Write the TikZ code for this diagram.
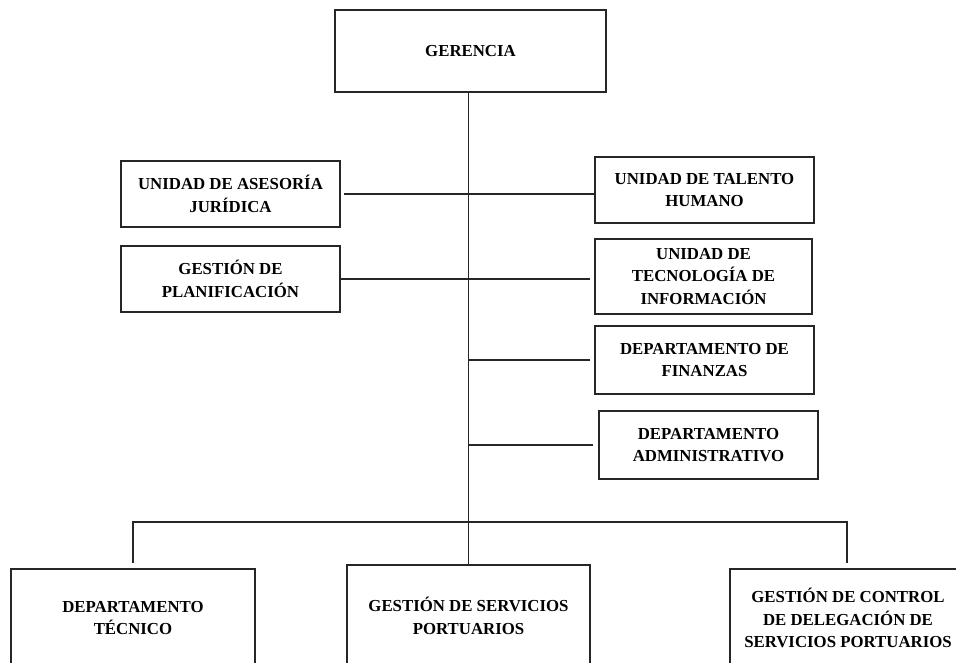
\documentclass[tikz,border=0pt]{standalone}
\usepackage{fontspec}
\setmainfont{Liberation Serif}
\begin{document}
\begin{tikzpicture}[x=1pt,y=-1pt,
  box/.style={draw=black!85,line width=1.5pt,align=center,inner sep=0pt,
    font=\bfseries\fontsize{16.8}{22.5}\selectfont},
  link/.style={draw=black!85,line width=1.7pt}]
\useasboundingbox (0,0) rectangle (956,662);
\clip (0,0) rectangle (956,662);
\node[box,minimum width=271pt,minimum height=82pt] (ger) at (470.5,51) {GERENCIA};
\node[box,minimum width=219pt,minimum height=66pt] (jur) at (230.5,194) {UNIDAD DE ASESORÍA\\JURÍDICA};
\node[box,minimum width=219pt,minimum height=66pt] (pla) at (230.5,279) {GESTIÓN DE\\PLANIFICACIÓN};
\node[box,minimum width=219pt,minimum height=66pt] (tal) at (704.5,190) {UNIDAD DE TALENTO\\HUMANO};
\node[box,minimum width=217pt,minimum height=75pt] (tec) at (703.5,276.5) {UNIDAD DE\\TECNOLOGÍA DE\\INFORMACIÓN};
\node[box,minimum width=219pt,minimum height=68pt] (fin) at (704.5,360) {DEPARTAMENTO DE\\FINANZAS};
\node[box,minimum width=219pt,minimum height=68pt] (adm) at (708.5,445) {DEPARTAMENTO\\ADMINISTRATIVO};
\node[box,minimum width=244pt,minimum height=98pt] (dtec) at (133,618) {DEPARTAMENTO\\TÉCNICO};
\node[box,minimum width=243pt,minimum height=102pt] (ser) at (468.5,616) {GESTIÓN DE SERVICIOS\\PORTUARIOS};
\node[box,minimum width=236pt,minimum height=98pt] (con) at (848,618) {GESTIÓN DE CONTROL\\DE DELEGACIÓN DE\\SERVICIOS PORTUARIOS};
\coordinate (busL) at (133,522);
\coordinate (busR) at (847,522);
\draw[link] (ser.north |- ger.south) -- (ser.north);
\draw[link] ([xshift=3pt]jur.east) -- (jur.east -| ser.north);
\draw[link] (pla.east) -- (pla.east -| ser.north);
\draw[link] (tal.west |- jur.east) -- (jur.east -| ser.north);
\draw[link] ([xshift=-4pt]tec.west |- pla.east) -- (pla.east -| ser.north);
\draw[link] ([xshift=-4pt]fin.west) -- (fin.west -| ser.north);
\draw[link] ([xshift=-5pt]adm.west) -- (adm.west -| ser.north);
\draw[link] ([yshift=5pt]dtec.north) -- (busL) -- (busR) -- ([yshift=5pt]busR |- con.north);
\end{tikzpicture}
\end{document}
